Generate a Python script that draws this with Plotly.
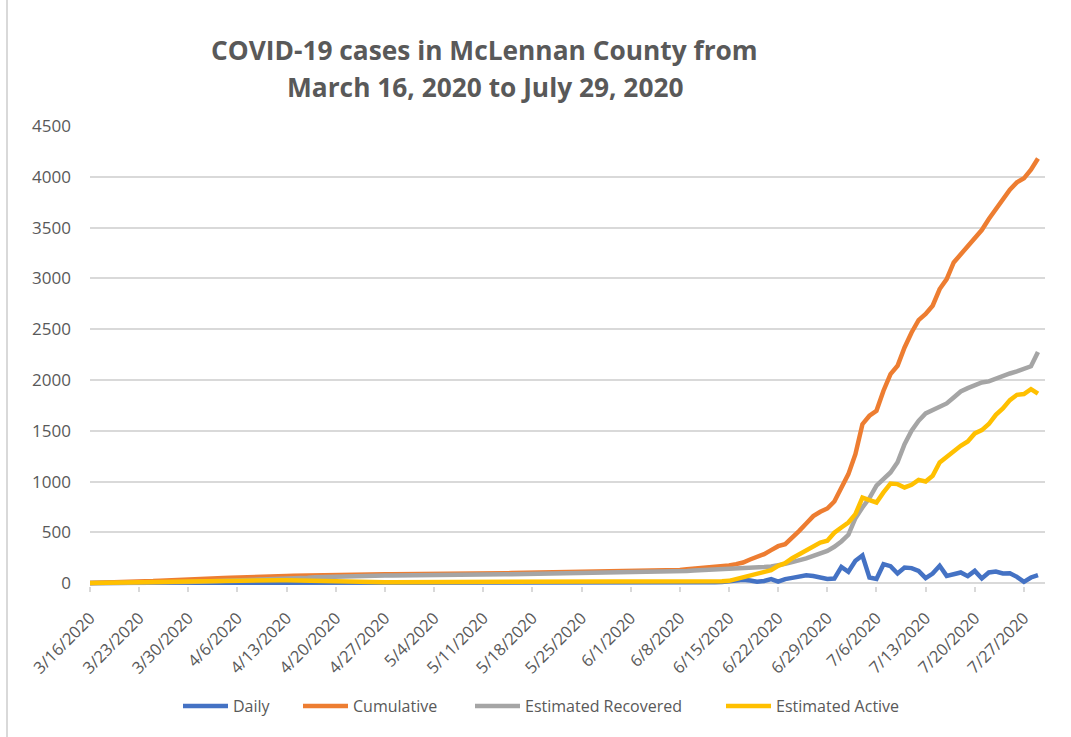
import pandas as pd
import plotly.graph_objects as go

dates = pd.date_range("2020-03-16", "2020-07-29", freq="D")

daily = [
    2, 1, 2, 2, 2, 2, 1,
    1, 3, 4, 4, 4, 3, 3,
    3, 3, 3, 3, 2, 2, 2,
    1, 3, 3, 3, 3, 2, 2,
    1, 2, 2, 1, 2, 1, 1,
    1, 1, 1, 1, 1, 1, 1,
    1, 0, 0, 1, 0, 0, 0,
    0, 1, 1, 0, 1, 1, 0,
    1, 1, 2, 1, 2, 1, 2,
    1, 1, 1, 1, 1, 1, 1,
    1, 1, 2, 1, 2, 1, 2,
    1, 1, 1, 1, 1, 1, 1,
    4, 6, 5, 7, 6, 8, 12,
    20, 28, 33, 26, 14, 22, 40,
    15, 40, 52, 70, 78, 70, 55,
    42, 45, 160, 112, 220, 272, 55,
    42, 187, 167, 95, 154, 148, 120,
    49, 95, 171, 72, 85, 105, 69,
    121, 46, 105, 115, 95, 98, 62,
    13, 56, 79,
]

cumulative = [
    2, 3, 5, 7, 9, 11, 12,
    13, 16, 20, 24, 28, 31, 34,
    37, 40, 43, 46, 48, 50, 52,
    53, 56, 59, 62, 65, 67, 69,
    70, 72, 74, 75, 77, 78, 79,
    80, 81, 82, 83, 84, 85, 86,
    87, 87, 87, 88, 88, 88, 88,
    88, 89, 90, 90, 91, 92, 92,
    93, 94, 96, 97, 99, 100, 102,
    103, 104, 105, 106, 107, 108, 109,
    110, 111, 113, 114, 116, 117, 119,
    120, 121, 122, 123, 124, 125, 126,
    130, 136, 141, 148, 154, 161, 167,
    174, 187, 203, 233, 259, 286, 325,
    364, 384, 443, 515, 587, 660, 702,
    735, 804, 935, 1073, 1270, 1565, 1648,
    1697, 1894, 2058, 2140, 2320, 2468, 2589,
    2649, 2731, 2895, 2993, 3157, 3239, 3321,
    3403, 3476, 3584, 3682, 3781, 3873, 3945,
    3985, 4070, 4180,
]

recovered = [
    0, 0, 0, 0, 1, 1, 1,
    1, 2, 3, 4, 6, 7, 9,
    11, 13, 15, 17, 19, 20, 22,
    23, 25, 27, 30, 34, 37, 40,
    42, 46, 50, 53, 57, 60, 63,
    65, 67, 69, 71, 72, 74, 75,
    76, 76, 76, 78, 78, 78, 78,
    78, 79, 80, 80, 81, 83, 83,
    84, 85, 86, 87, 88, 89, 91,
    92, 93, 93, 94, 94, 95, 96,
    96, 96, 97, 98, 101, 103, 106,
    107, 108, 109, 110, 110, 111, 112,
    114, 120, 124, 127, 129, 130, 131,
    132, 135, 138, 141, 148, 158, 164,
    174, 190, 207, 223, 243, 269, 292,
    318, 358, 410, 476, 640, 745, 837,
    960, 1030, 1090, 1190, 1369, 1500, 1598,
    1671, 1703, 1736, 1769, 1828, 1887, 1920,
    1943, 1976, 1986, 2015, 2041, 2064, 2084,
    2104, 2135, 2275,
]

active = [
    2, 3, 5, 7, 8, 10, 11,
    12, 14, 17, 20, 22, 24, 25,
    26, 27, 28, 29, 29, 30, 30,
    30, 31, 32, 32, 31, 30, 29,
    28, 26, 24, 22, 20, 18, 16,
    15, 14, 13, 12, 12, 11, 11,
    10, 10, 10, 9, 9, 9, 9,
    9, 9, 9, 9, 9, 8, 8,
    8, 8, 9, 9, 10, 10, 10,
    10, 10, 11, 11, 12, 12, 12,
    13, 14, 15, 15, 14, 13, 12,
    12, 12, 12, 12, 13, 13, 13,
    14, 15, 16, 16, 17, 17, 18,
    23, 39, 56, 72, 89, 105, 128,
    171, 197, 246, 286, 318, 361, 400,
    417, 496, 548, 597, 679, 843, 817,
    794, 893, 981, 975, 942, 968, 1017,
    1001, 1057, 1188, 1244, 1303, 1352, 1395,
    1474, 1506, 1566, 1657, 1720, 1802, 1854,
    1861, 1910, 1865,
]

tick_dates = pd.date_range("2020-03-16", "2020-07-27", freq="7D")
tick_labels = ["3/16/2020", "3/23/2020", "3/30/2020", "4/6/2020", "4/13/2020",
               "4/20/2020", "4/27/2020", "5/4/2020", "5/11/2020", "5/18/2020",
               "5/25/2020", "6/1/2020", "6/8/2020", "6/15/2020", "6/22/2020",
               "6/29/2020", "7/6/2020", "7/13/2020", "7/20/2020", "7/27/2020"]

series_names = ["Daily", "Cumulative", "Estimated Recovered", "Estimated Active"]
series_values = [daily, cumulative, recovered, active]
series_colors = ["#4472C4", "#ED7D31", "#A5A5A5", "#FFC000"]

FONT = "Open Sans"
GRAY = "#595959"
GRID = "#D9D9D9"
LW = 4.5

fig = go.Figure()
for name, vals, color in zip(series_names, series_values, series_colors):
    fig.add_trace(go.Scatter(
        x=dates, y=vals, name=name, mode="lines",
        line=dict(color=color, width=LW, shape="linear"),
        showlegend=False,
    ))

# plot area on screen: x 90..1045, y 126..586 (page body margin removed below)
W, H = 1071, 737
PLOT_L, PLOT_W, PLOT_T, PLOT_H = 90.0, 955.0, 126.0, 460.0
ml, mt = PLOT_L, PLOT_T
mr = W - PLOT_L - PLOT_W
mb = H - PLOT_T - PLOT_H
PLOT_B = PLOT_T + PLOT_H


def px(x):
    return (x - PLOT_L) / PLOT_W


def py(y):
    return (PLOT_B - y) / PLOT_H


legend_line_x = [183, 303, 475, 726]
legend_y = 706
shapes = [
    dict(type="line", xref="paper", yref="paper",
         x0=px(7), x1=px(7), y0=py(740), y1=py(-5),
         line=dict(color=GRID, width=2)),
]
annotations = [
    dict(text="COVID-19 cases in McLennan County from", xref="paper", yref="paper",
         x=px(484), y=py(50), xanchor="center", yanchor="middle", showarrow=False,
         font=dict(family=FONT, size=26.3, color=GRAY, weight=700)),
    dict(text="March 16, 2020 to July 29, 2020", xref="paper", yref="paper",
         x=px(485), y=py(87), xanchor="center", yanchor="middle", showarrow=False,
         font=dict(family=FONT, size=26.3, color=GRAY, weight=700)),
]
for lx, name, color in zip(legend_line_x, series_names, series_colors):
    shapes.append(dict(type="line", xref="paper", yref="paper",
                       x0=px(lx), x1=px(lx + 45), y0=py(legend_y), y1=py(legend_y),
                       line=dict(color=color, width=LW)))
    annotations.append(dict(text=name, xref="paper", yref="paper",
                            x=px(lx + 48), y=py(legend_y), xanchor="left", yanchor="middle",
                            showarrow=False, font=dict(family=FONT, size=16, color=GRAY)))

fig.update_layout(
    width=W, height=H,
    margin=dict(l=ml, r=mr, t=mt, b=mb, autoexpand=False),
    paper_bgcolor="white", plot_bgcolor="white",
    font=dict(family=FONT, size=16, color=GRAY),
    showlegend=False,
    xaxis=dict(
        type="date",
        range=["2020-03-16", "2020-07-30"],
        tickvals=list(tick_dates), ticktext=tick_labels,
        tickangle=-45,
        showgrid=False, zeroline=False, showline=False,
        ticks="outside", ticklen=5, tickcolor=GRID, tickwidth=1.5,
        ticklabelstandoff=10,
        tickfont=dict(family=FONT, size=16.5, color=GRAY),
        layer="below traces",
    ),
    yaxis=dict(
        range=[-28, 4500],
        tickvals=[0, 500, 1000, 1500, 2000, 2500, 3000, 3500, 4000, 4500],
        showgrid=True, gridcolor=GRID, gridwidth=1.5,
        zeroline=False, showline=False, ticks="",
        ticklabelstandoff=18,
        tickfont=dict(family=FONT, size=17, color=GRAY),
        layer="below traces",
    ),
    annotations=annotations,
    shapes=shapes,
)

fig.write_html("out.html", config={"displayModeBar": False},
               post_script="document.body.style.margin='0';")
